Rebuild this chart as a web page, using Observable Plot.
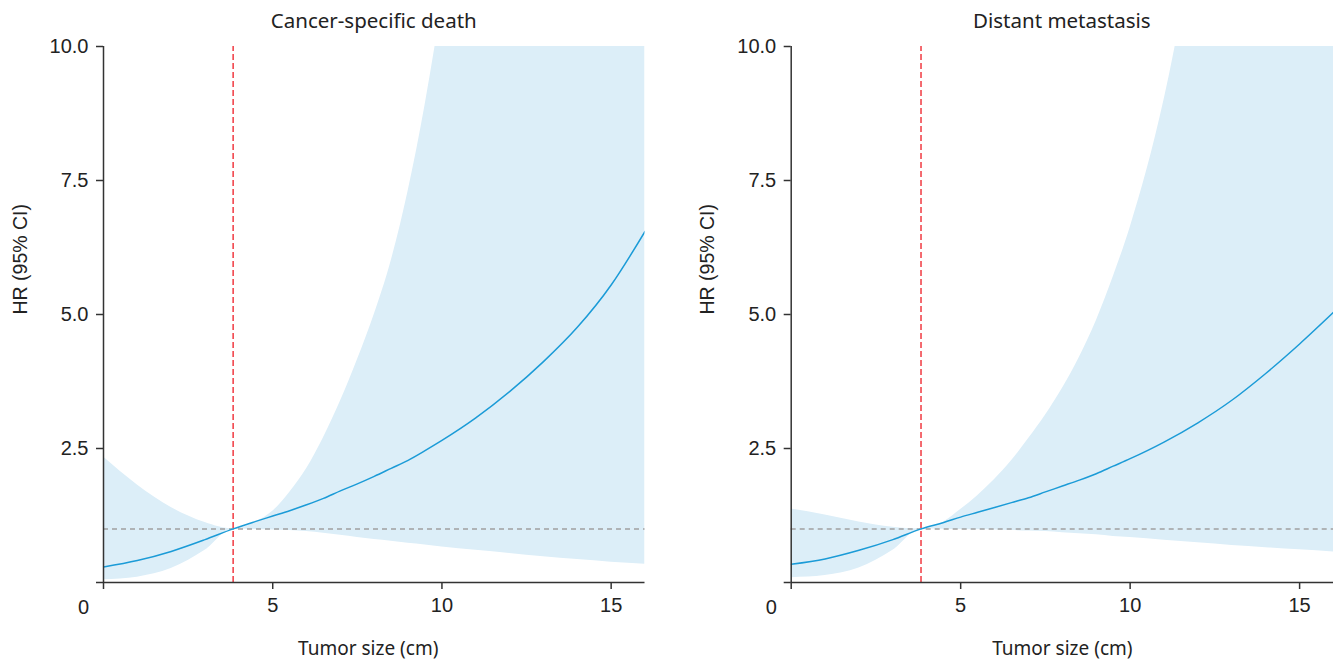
<!DOCTYPE html>
<html><head><meta charset="utf-8">
<script src="https://cdn.jsdelivr.net/npm/d3@7"></script>
<script src="https://cdn.jsdelivr.net/npm/@observablehq/plot@0.6"></script>
<style>
body{margin:0;background:#fff;}
#wrap{display:flex;width:1338px;height:660px;}
.panel{width:669px;height:660px;}
.title{height:40px;line-height:40px;text-align:center;font-family:"Noto Sans",sans-serif;font-size:20.5px;color:#222;box-sizing:border-box;}
</style></head><body><div id="wrap"></div>
<script>
// Shared tumor size grid (cm)
const tumorSize = [0, 1, 2, 3, 3.83, 4.5, 5, 5.5, 6, 6.5, 7, 7.5, 8, 8.5, 9, 9.5, 10, 11, 12, 13, 14, 15, 16];
// Cancer-specific death
const csdHR    = [0.29, 0.41, 0.58, 0.80, 1.00, 1.14, 1.24, 1.34, 1.45, 1.57, 1.71, 1.84, 1.98, 2.13, 2.28, 2.46, 2.65, 3.07, 3.56, 4.12, 4.76, 5.55, 6.55];
const csdLower = [0.05, 0.10, 0.26, 0.60, 1.00, 0.99, 0.98, 0.97, 0.95, 0.92, 0.88, 0.84, 0.80, 0.77, 0.73, 0.70, 0.66, 0.60, 0.54, 0.48, 0.43, 0.38, 0.34];
const csdUpper = [2.34, 1.82, 1.40, 1.12, 1.00, 1.13, 1.33, 1.68, 2.12, 2.70, 3.38, 4.15, 5.00, 6.00, 7.30, 8.90, 10.8, 15.0, 20, 25, 30, 35, 40];
// Distant metastasis
const dmHR     = [0.34, 0.44, 0.60, 0.80, 1.00, 1.12, 1.22, 1.31, 1.40, 1.49, 1.58, 1.69, 1.80, 1.91, 2.03, 2.17, 2.31, 2.62, 2.98, 3.40, 3.90, 4.45, 5.04];
const dmLower  = [0.09, 0.13, 0.27, 0.60, 1.00, 0.995, 0.99, 0.985, 0.98, 0.97, 0.96, 0.95, 0.93, 0.91, 0.89, 0.86, 0.84, 0.79, 0.74, 0.69, 0.65, 0.61, 0.57];
const dmUpper  = [1.37, 1.26, 1.13, 1.03, 1.00, 1.13, 1.36, 1.62, 1.92, 2.27, 2.68, 3.12, 3.62, 4.20, 4.88, 5.70, 6.62, 9.00, 12.3, 16, 20, 24, 28];
// Reference
const refSize = [3.83];
const refHR = [1];
const xTicks = [0, 5, 10, 15];
const yTicks = [0, 2.5, 5, 7.5, 10];
const titles = ["Cancer-specific death", "Distant metastasis"];
const xLabel = "Tumor size (cm)";
const yLabel = "HR (95% CI)";

function panel(title, hr, lo, up, mL, mR, labelDx) {
  const data = tumorSize.map((x, i) => ({x, hr: hr[i], lo: lo[i], up: up[i]}));
  const div = document.createElement("div"); div.className = "panel";
  const t = document.createElement("div"); t.className = "title";
  t.style.paddingLeft = mL + "px"; t.style.paddingRight = mR + "px";
  t.textContent = title;
  div.append(t);
  const chart = Plot.plot({
    width: 669, height: 620, marginLeft: mL, marginRight: mR, marginTop: 6, marginBottom: 78,
    style: {fontFamily: '"Liberation Sans", Arial, sans-serif', fontSize: "20px", color: "#222", background: "#fff", overflow: "visible"},
    x: {domain: [0, 16]},
    y: {domain: [0, 10]},
    marks: [
      Plot.areaY(data, {x: "x", y1: "lo", y2: "up", fill: "#dceef8", curve: "monotone-x", clip: true}),
      Plot.ruleY(refHR, {y: d => d, stroke: "#a0a0a0", strokeWidth: 1.5, strokeDasharray: "5,4"}),
      Plot.ruleX(refSize, {x: d => d, y1: 0, y2: 10, stroke: "#ee1c25", strokeWidth: 1.3, strokeDasharray: "6,3"}),
      Plot.lineY(data, {x: "x", y: "hr", stroke: "#1b9bd7", strokeWidth: 1.5, curve: "monotone-x", clip: true}),
      Plot.ruleX([0], {stroke: "#333", strokeWidth: 1.5}),
      Plot.ruleY([0], {stroke: "#333", strokeWidth: 1.5}),
      Plot.axisX(xTicks, {tickSize: 7, tickPadding: 8, strokeWidth: 1.5, stroke: "#333", fill: "#222", tickFormat: d => d === 0 ? "" : String(d), label: null}),
      Plot.axisY(yTicks, {tickSize: 7, tickPadding: 8, strokeWidth: 1.5, stroke: "#333", fill: "#222", tickFormat: d => d === 0 ? "" : d3.format(".1f")(d), label: null}),
      Plot.text([0], {x: d => d, y: d => d, dx: -20, dy: 25, text: d => "0", fill: "#222"}),
      Plot.text([xLabel], {frameAnchor: "bottom", dx: labelDx, dy: 72, lineAnchor: "bottom", text: d => d, fontFamily: '"Noto Sans", sans-serif', fontSize: 19, fill: "#222"}),
      Plot.text([yLabel], {frameAnchor: "left", dx: -83, rotate: -90, text: d => d, fontSize: 19.5, fill: "#222"})
    ]
  });
  div.append(chart);
  return div;
}
const wrap = document.getElementById("wrap");
wrap.append(panel(titles[0], csdHR, csdLower, csdUpper, 103, 24.5, -6));
wrap.append(panel(titles[1], dmHR, dmLower, dmUpper, 121.7, 5, 0));
</script>
</body></html>
